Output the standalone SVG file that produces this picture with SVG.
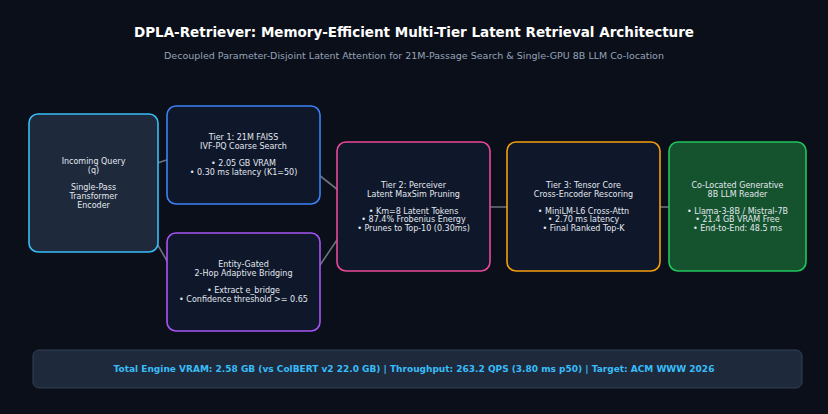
<svg xmlns="http://www.w3.org/2000/svg" width="828" height="414" viewBox="0 0 828 414">
<style>
text{font-family:"DejaVu Sans",sans-serif;text-anchor:middle}
.n{font-size:8px;fill:#e2e8f0}
.b{stroke-width:1.6;fill:#0f172a}
.c{stroke:#6b7280;stroke-width:1.6;fill:none;marker-end:url(#a)}
</style>
<defs><marker id="a" viewBox="0 0 10 10" refX="9" refY="5" markerWidth="6" markerHeight="6" orient="auto"><path d="M0,0L10,5L0,10z" fill="#6b7280"/></marker></defs>
<rect width="828" height="414" fill="#0b0f19"/>
<text x="414" y="37" font-size="13.5" font-weight="bold" fill="#ffffff">DPLA-Retriever: Memory-Efficient Multi-Tier Latent Retrieval Architecture</text>
<text x="414" y="59" font-size="9.5" fill="#94a3b8">Decoupled Parameter-Disjoint Latent Attention for 21M-Passage Search &amp; Single-GPU 8B LLM Co-location</text>
<g id="connectors">
<path class="c" d="M148,166L176,157"/>
<path class="c" d="M148,228L178,280"/>
<path class="c" d="M310,168L347,197"/>
<path class="c" d="M310,280L347,225"/>
<path class="c" d="M480,207L516,207"/>
<path class="c" d="M650,207L680,207"/>
</g>
<g id="query"><rect class="b" x="29" y="114" width="129" height="138" rx="9" fill="#1e293b" stroke="#38bdf8" style="fill:#1e293b"/>
<text class="n" x="93.5" y="164">Incoming Query</text><text class="n" x="93.5" y="173">(q)</text><text class="n" x="93.5" y="190">Single-Pass</text><text class="n" x="93.5" y="199">Transformer</text><text class="n" x="93.5" y="208">Encoder</text></g>
<g id="tier1"><rect class="b" x="167" y="106" width="153" height="98" rx="9" stroke="#3b82f6"/>
<text class="n" x="243.5" y="140">Tier 1: 21M FAISS</text><text class="n" x="243.5" y="149">IVF-PQ Coarse Search</text><text class="n" x="243.5" y="166">• 2.05 GB VRAM</text><text class="n" x="243.5" y="175">• 0.30 ms latency (K1=50)</text></g>
<g id="entity"><rect class="b" x="167" y="233" width="153" height="98" rx="9" stroke="#a855f7"/>
<text class="n" x="243.5" y="267">Entity-Gated</text><text class="n" x="243.5" y="276">2-Hop Adaptive Bridging</text><text class="n" x="243.5" y="293">• Extract e_bridge</text><text class="n" x="243.5" y="302">• Confidence threshold &gt;= 0.65</text></g>
<g id="tier2"><rect class="b" x="337" y="142" width="153" height="129" rx="9" stroke="#ec4899"/>
<text class="n" x="413.5" y="188">Tier 2: Perceiver</text><text class="n" x="413.5" y="197">Latent MaxSim Pruning</text><text class="n" x="413.5" y="214">• Km=8 Latent Tokens</text><text class="n" x="413.5" y="222">• 87.4% Frobenius Energy</text><text class="n" x="413.5" y="231">• Prunes to Top-10 (0.30ms)</text></g>
<g id="tier3"><rect class="b" x="507" y="142" width="153" height="129" rx="9" stroke="#f59e0b"/>
<text class="n" x="583.5" y="188">Tier 3: Tensor Core</text><text class="n" x="583.5" y="197">Cross-Encoder Rescoring</text><text class="n" x="583.5" y="214">• MiniLM-L6 Cross-Attn</text><text class="n" x="583.5" y="222">• 2.70 ms latency</text><text class="n" x="583.5" y="231">• Final Ranked Top-K</text></g>
<g id="llm"><rect class="b" x="669" y="142" width="137" height="129" rx="9" stroke="#22c55e" style="fill:#14532d"/>
<text class="n" x="737.5" y="188">Co-Located Generative</text><text class="n" x="737.5" y="197">8B LLM Reader</text><text class="n" x="737.5" y="214">• Llama-3-8B / Mistral-7B</text><text class="n" x="737.5" y="222">• 21.4 GB VRAM Free</text><text class="n" x="737.5" y="231">• End-to-End: 48.5 ms</text></g>
<g id="footer"><rect x="33" y="350" width="769" height="38" rx="6" fill="#1e293b" stroke="#334155" stroke-width="1"/>
<text x="414" y="372" font-size="9" font-weight="bold" fill="#38bdf8">Total Engine VRAM: 2.58 GB (vs ColBERT v2 22.0 GB)  |  Throughput: 263.2 QPS (3.80 ms p50)  |  Target: ACM WWW 2026</text></g>
</svg>
